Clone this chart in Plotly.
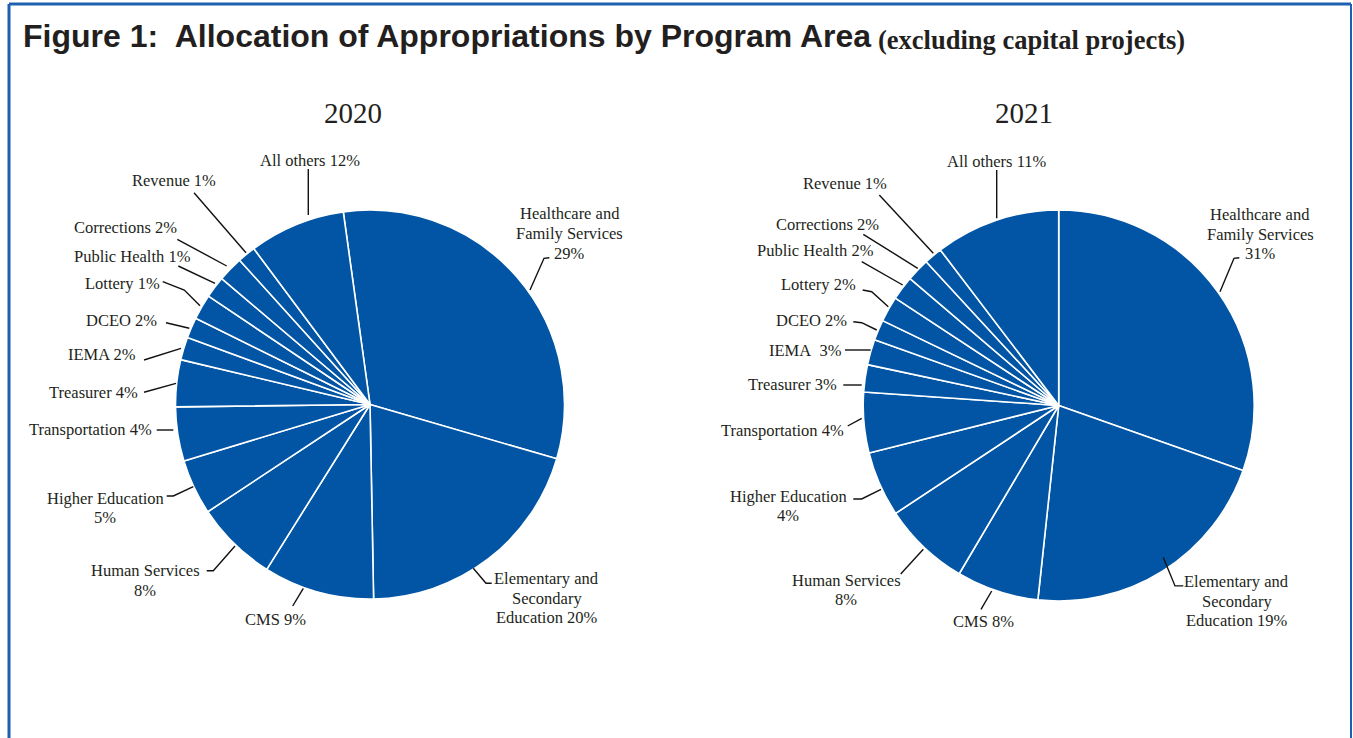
import plotly.graph_objects as go

# ---------------- data ----------------
categories = ["Healthcare and Family Services", "Elementary and Secondary Education", "CMS",
              "Human Services", "Higher Education", "Transportation", "Treasurer", "IEMA",
              "DCEO", "Lottery", "Public Health", "Corrections", "Revenue", "All others"]
# slice shares as drawn
slices_2020 = [31.7, 20.2, 9.2, 6.8, 4.6, 4.5, 3.9, 1.9, 1.7, 2.1, 1.8, 2.1, 1.5, 8.0]
slices_2021 = [30.4, 21.3, 6.8, 7.2, 5.4, 5.0, 2.25, 2.1, 1.7, 2.1, 2.0, 1.9, 1.5, 10.35]
# percentages printed on the labels
printed_2020 = [29, 20, 9, 8, 5, 4, 4, 2, 2, 1, 1, 2, 1, 12]
printed_2021 = [31, 19, 8, 8, 4, 4, 3, 3, 2, 2, 2, 2, 1, 11]
years = ["2020", "2021"]

# ---------------- layout / style ----------------
W, H = 1353, 738
BLUE = "#0155a4"
FRAME = "#1c60b2"
TXT = "#231f20"
SERIF = "Liberation Serif, Times New Roman, serif"
SANS = "Liberation Sans, Arial, sans-serif"
LABEL_SIZE = 16.5
LINE_H = 19.6

def px(x):
    return x / W

def py(y):
    return 1 - y / H

label_fmt = {
    "Healthcare and Family Services": "Healthcare and<br>Family Services<br>{p}%",
    "Elementary and Secondary Education": "Elementary and<br>Secondary<br>Education {p}%",
    "Higher Education": "Higher Education<br>{p}%",
    "Human Services": "Human Services<br>{p}%",
}

# pie placement: center x, center y, radius (pixels), rotation of first slice
pies = [
    dict(values=slices_2020, printed=printed_2020, cx=370, cy=404.5, r=194.5, rot=-7.9, title_x=353),
    dict(values=slices_2021, printed=printed_2021, cx=1058.7, cy=405.5, r=195.5, rot=0, title_x=1024),
]

# label placement per pie (center x, center y) in the order of categories
label_pos = [
    [(569.5, 233.5), (546.5, 598), (275.8, 619), (145.2, 580.5), (105, 507.8), (90.8, 430),
     (93.8, 392.3), (102.2, 354.5), (121.3, 320), (122.2, 283.3), (132.3, 256.7),
     (125.3, 227.3), (174.3, 180), (309.5, 160.7)],
    [(1260, 234), (1236.7, 601), (983.3, 621.7), (846, 590), (788, 506), (782, 430.7),
     (792.5, 384), (805.2, 350), (811.3, 320), (818.3, 284.3), (815.3, 250.7),
     (827.5, 224), (844.7, 183.3), (997.2, 161.7)],
]
# leader line polylines per pie, same order
leaders = [
    [[(530, 290), (544, 258.3), (549.3, 257.7)],
     [(473.3, 568.3), (486, 583.3), (491.7, 583.3)],
     [(292.7, 606), (303.3, 588.3)],
     [(206.7, 570.7), (213.3, 570.7), (235, 546)],
     [(166.7, 496), (173.3, 496), (193.3, 486.7)],
     [(156.7, 430), (173.3, 430)],
     [(144, 392.3), (176, 383.3)],
     [(144, 360), (181, 348.3)],
     [(166, 322.7), (189.3, 328.3)],
     [(162.7, 281.7), (184.3, 290), (200, 305.7)],
     [(178.3, 266), (215, 283.3)],
     [(177.3, 239.3), (226.7, 266)],
     [(194, 192.7), (246, 252.7)],
     [(308.3, 169), (308.3, 215)]],
    [[(1220, 291.7), (1234, 258.3), (1239.3, 257.7)],
     [(1163.3, 557.6), (1175, 585.9), (1183.3, 585.9)],
     [(981, 609.3), (991.7, 591)],
     [(900.7, 574), (923.3, 549.3)],
     [(853.3, 499), (861.7, 499), (881, 489.3)],
     [(847.7, 426), (861.7, 418.3)],
     [(843.3, 385), (861.7, 385)],
     [(845, 350), (870.7, 350)],
     [(853.3, 321.7), (861.7, 322.7), (876.7, 330)],
     [(862.7, 290), (871.7, 291.7), (888.3, 306.7)],
     [(861.7, 261.7), (902.7, 285)],
     [(863.3, 234.3), (917.7, 268.3)],
     [(879.3, 195), (933.3, 253.3)],
     [(996.7, 170), (996.7, 218.3)]],
]

fig = go.Figure()
annotations = []
shapes = []

for k, p in enumerate(pies):
    cx, cy, r = p["cx"], p["cy"], p["r"]
    fig.add_trace(go.Pie(
        values=p["values"], labels=categories, sort=False, direction="clockwise",
        rotation=p["rot"], textinfo="none", hoverinfo="label",
        marker=dict(colors=[BLUE] * len(categories), line=dict(color="white", width=1.6)),
        domain=dict(x=[px(cx - r), px(cx + r)], y=[py(cy + r), py(cy - r)]),
        showlegend=False, name=years[k],
    ))
    annotations.append(dict(text=years[k], x=px(p["title_x"]), y=py(113), xref="paper", yref="paper",
                            xanchor="center", yanchor="middle", showarrow=False,
                            font=dict(family=SERIF, size=29, color=TXT)))
    for i, cat in enumerate(categories):
        pct = p["printed"][i]
        if cat in label_fmt:
            txt = label_fmt[cat].format(p=pct)
        elif cat == "IEMA" and k == 1:
            txt = f"IEMA\u00a0 {pct}%"
        else:
            txt = f"{cat} {pct}%"
        lx, ly = label_pos[k][i]
        lines = txt.split("<br>")
        n = len(lines)
        for j, line in enumerate(lines):
            yy = ly + (j - (n - 1) / 2) * LINE_H
            annotations.append(dict(text=line, x=px(lx), y=py(yy), xref="paper", yref="paper",
                                    xanchor="center", yanchor="middle", showarrow=False,
                                    font=dict(family=SERIF, size=LABEL_SIZE, color=TXT)))
        pts = leaders[k][i]
        path = "M " + " L ".join(f"{px(x):.5f},{py(y):.5f}" for x, y in pts)
        shapes.append(dict(type="path", path=path, xref="paper", yref="paper",
                           line=dict(color="#111111", width=1.4)))

# title
annotations.append(dict(text="<b>Figure 1:\u00a0 Allocation of Appropriations by Program Area</b>",
                        x=px(21), y=py(36), xref="paper", yref="paper", xanchor="left",
                        yanchor="middle", showarrow=False,
                        font=dict(family=SANS, size=32, color=TXT)))
annotations.append(dict(text="<b>(excluding capital projects)</b>",
                        x=px(876), y=py(40), xref="paper", yref="paper", xanchor="left",
                        yanchor="middle", showarrow=False,
                        font=dict(family=SERIF, size=26.5, color=TXT)))

# frame
shapes.append(dict(type="line", x0=px(9), x1=px(1351), y0=py(4), y1=py(4), xref="paper", yref="paper",
                   line=dict(color=FRAME, width=3)))
shapes.append(dict(type="line", x0=px(9), x1=px(9), y0=py(4), y1=py(745), xref="paper", yref="paper",
                   line=dict(color=FRAME, width=3)))
shapes.append(dict(type="line", x0=px(1351), x1=px(1351), y0=py(4), y1=py(745), xref="paper", yref="paper",
                   line=dict(color=FRAME, width=2)))

fig.update_layout(
    width=W, height=H, margin=dict(l=0, r=0, t=0, b=0),
    paper_bgcolor="white", plot_bgcolor="white",
    annotations=annotations, shapes=shapes, showlegend=False,
)

fig.write_html("out.html", config={"displayModeBar": False},
               post_script="document.body.style.margin='0';document.body.style.overflow='hidden';")
